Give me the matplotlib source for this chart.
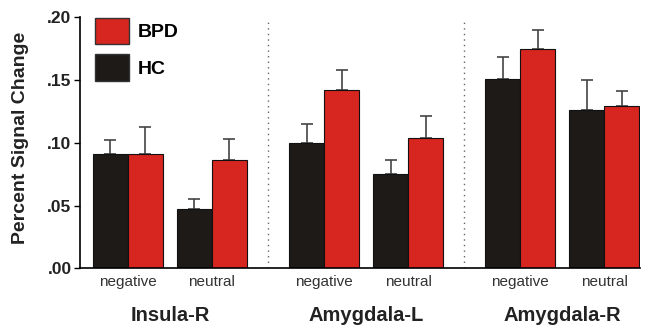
import matplotlib
matplotlib.use("Agg")
from matplotlib import pyplot as plt
from matplotlib.patches import Patch
import numpy as np

# data
regions = ["Insula-R", "Amygdala-L", "Amygdala-R"]
conditions = ["negative", "neutral"]
hc_mean = [0.091, 0.047, 0.100, 0.075, 0.151, 0.126]
hc_err = [0.011, 0.008, 0.015, 0.011, 0.017, 0.024]
bpd_mean = [0.091, 0.086, 0.142, 0.104, 0.175, 0.129]
bpd_err = [0.022, 0.017, 0.016, 0.017, 0.015, 0.012]
yticks = [0.0, 0.05, 0.10, 0.15, 0.20]
ytick_labels = [".00", ".05", ".10", ".15", ".20"]

red = "#d7251f"
black = "#1e1a18"

plt.rcParams["font.family"] = ["Liberation Sans", "DejaVu Sans"]

fig = plt.figure(figsize=(6.5, 3.27), dpi=100)
ax = fig.add_axes([0.123, 0.1795, 0.862, 0.7675])

# bar centres: pairs inside a region, wider gaps between regions
centers = []
for r in range(len(regions)):
    for c in range(len(conditions)):
        centers.append(r * 5.6 + c * 2.4)
centers = np.array(centers)
w = 1.0

ax.bar(centers - w / 2, hc_mean, w, color=black, edgecolor="#111111", linewidth=0.8, zorder=2)
ax.bar(centers + w / 2, bpd_mean, w, color=red, edgecolor="#111111", linewidth=0.8, zorder=2)

# upper error bars only
ax.errorbar(centers - w / 2, hc_mean, yerr=[np.zeros(6), hc_err], fmt="none",
            ecolor="#444444", elinewidth=1.2, capsize=4, capthick=1.2, zorder=1)
ax.errorbar(centers + w / 2, bpd_mean, yerr=[np.zeros(6), bpd_err], fmt="none",
            ecolor="#444444", elinewidth=1.2, capsize=4, capthick=1.2, zorder=1)

# dotted separators between regions
for r in range(1, len(regions)):
    xs = (r - 1) * 5.6 + 2.4 + 1.0 + (5.6 - 2.4 - 2.0) / 2
    ax.plot([xs, xs], [0, 0.196], linestyle=(0, (1, 3)), color="#666666", linewidth=1.0)

ax.set_xlim(-1.37, 14.63)
ax.set_ylim(0, 0.2)
ax.set_yticks(yticks)
ax.set_yticklabels(ytick_labels, fontsize=12.5, fontweight="bold", color="#222222")
ax.tick_params(axis="y", direction="out", length=4, width=1, pad=2)
ax.set_xticks([])
ax.spines["top"].set_visible(False)
ax.spines["right"].set_visible(False)
ax.spines["left"].set_linewidth(1.2)
ax.spines["bottom"].set_linewidth(1.2)

# condition and region labels
for i, cx in enumerate(centers):
    ax.text(cx, -0.0141, conditions[i % 2], ha="center", va="baseline", fontsize=11, color="#333333")
for r, name in enumerate(regions):
    ax.text(r * 5.6 + 1.2, -0.042, name, ha="center", va="baseline", fontsize=14.5,
            fontweight="bold", color="#222222")

fig.text(0.031, 0.579, "Percent Signal Change", rotation=90, ha="center", va="center",
         fontsize=14, fontweight="bold", color="#222222")

handles = [Patch(facecolor=red, edgecolor="#333333"), Patch(facecolor=black, edgecolor="#333333")]
leg = ax.legend(handles, ["BPD", "HC"], loc="upper left", bbox_to_anchor=(0.013, 1.03),
                frameon=False, handlelength=1.75, handleheight=1.75, labelspacing=0.5,
                handletextpad=0.45, borderaxespad=0,
                prop={"size": 14, "weight": "bold"})

fig.savefig("out.png", dpi=100)
